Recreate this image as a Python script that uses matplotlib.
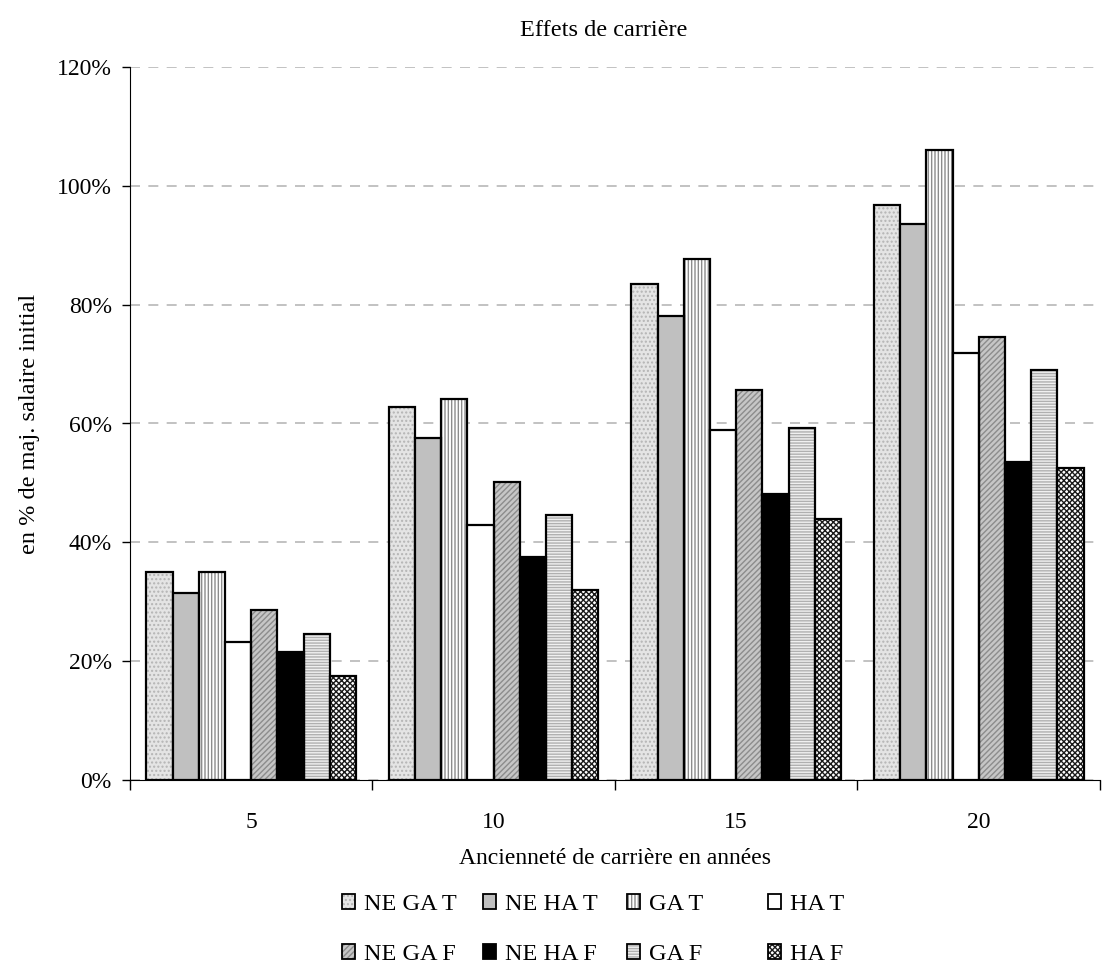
import numpy as np
import matplotlib.pyplot as plt
from matplotlib.patches import Patch
from matplotlib.legend_handler import HandlerTuple

plt.rcParams['font.family'] = ['Liberation Serif', 'DejaVu Serif']
plt.rcParams['hatch.linewidth'] = 1.0

annees = ['5', '10', '15', '20']
series = ['NE GA T', 'NE HA T', 'GA T', 'HA T', 'NE GA F', 'NE HA F', 'GA F', 'HA F']

ne_ga_t = [35.0, 62.8, 83.5, 96.8]
ne_ha_t = [31.5, 57.6, 78.1, 93.6]
ga_t = [35.0, 64.1, 87.7, 106.0]
ha_t = [23.2, 42.9, 58.9, 71.9]
ne_ga_f = [28.6, 50.2, 65.6, 74.6]
ne_ha_f = [21.5, 37.5, 48.1, 53.5]
ga_f = [24.6, 44.6, 59.2, 69.0]
ha_f = [17.5, 32.0, 43.9, 52.5]

valeurs = [ne_ga_t, ne_ha_t, ga_t, ha_t, ne_ga_f, ne_ha_f, ga_f, ha_f]

# remplissage, couleur des hachures, motif
styles = [
    ('#e4e4e4', '#b4b4b4', '....'),
    ('#c0c0c0', None, None),
    ('#ffffff', '#8c8c8c', '|||||'),
    ('#ffffff', None, None),
    ('#c6c6c6', '#8c8c8c', '//////'),
    ('#000000', None, None),
    ('#f0f0f0', '#b0b0b0', '------'),
    ('#ffffff', '#1a1a1a', 'xxxxxx'),
]

fig = plt.figure(figsize=(11.10, 9.68), dpi=100)
ax = fig.add_axes([0.117, 0.194, 0.874, 0.737])

x = np.arange(len(annees))
w = 0.108
handles = []
for i, (vals, (fc, hc, hatch)) in enumerate(zip(valeurs, styles)):
    pos = x + (i - 3.5) * w
    if hatch:
        ax.bar(pos, vals, w, color=fc, edgecolor=hc, hatch=hatch, linewidth=0, zorder=2)
        ax.bar(pos, vals, w, fill=False, edgecolor='black', linewidth=1.6, zorder=3)
        h = (Patch(facecolor=fc, edgecolor=hc, hatch=hatch, linewidth=0),
             Patch(fill=False, edgecolor='black', linewidth=1.3))
    else:
        ax.bar(pos, vals, w, color=fc, edgecolor='black', linewidth=1.6, zorder=3)
        h = Patch(facecolor=fc, edgecolor='black', linewidth=1.3)
    handles.append(h)

ax.set_xlim(-0.5, 3.5)
ax.set_ylim(0, 120)
ax.set_yticks(np.arange(0, 121, 20))
ax.set_yticklabels([f'{v}%' for v in range(0, 121, 20)])
ax.set_xticks(x)
ax.set_xticklabels(annees)
ax.set_xticks(np.arange(-0.5, 3.6, 1), minor=True)
ax.tick_params(axis='x', which='major', length=0, pad=23)
ax.tick_params(axis='x', which='minor', length=7, direction='out', width=1)
ax.tick_params(axis='y', length=6, direction='out', width=1, pad=7)
ax.tick_params(labelsize=17)

ax.yaxis.grid(True, linestyle=(0, (6, 5)), color='#b8b8b8', linewidth=1.2)
ax.set_axisbelow(True)
for s in ['top', 'right']:
    ax.spines[s].set_visible(False)

fig.text(604 / 1110, 1 - 30 / 968, 'Effets de carrière', fontsize=17.5, ha='center', va='center')
ax.set_ylabel('en % de maj. salaire initial', fontsize=17.5, labelpad=12)
ax.set_xlabel('Ancienneté de carrière en années', fontsize=17, labelpad=11)

# une colonne de légende par groupe (T au-dessus, F en dessous)
col_x = [342, 483, 627, 768]
for j, cx in enumerate(col_x):
    fig.legend([handles[j], handles[j + 4]], [series[j], series[j + 4]],
               loc='upper left', bbox_to_anchor=(cx / 1110, 1 - 894 / 968),
               frameon=False, fontsize=17.5, handlelength=0.55, handleheight=0.55,
               handletextpad=0.35, labelspacing=1.2, borderpad=0, borderaxespad=0,
               handler_map={tuple: HandlerTuple(ndivide=1, pad=0)})

fig.savefig('out.png', dpi=100)
